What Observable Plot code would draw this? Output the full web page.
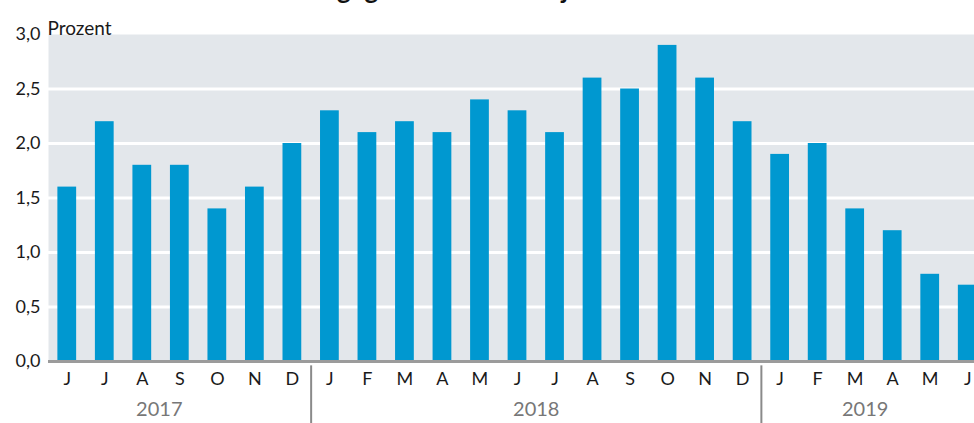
<!DOCTYPE html>
<html>
<head>
<meta charset="utf-8">
<script src="https://cdn.jsdelivr.net/npm/d3@7"></script>
<script src="https://cdn.jsdelivr.net/npm/@observablehq/plot@0.6"></script>
<style>
  html, body { margin: 0; padding: 0; background: #fff; overflow: hidden; width: 974px; height: 423px; }
  #wrap { position: relative; width: 974px; height: 423px; overflow: hidden; }
  .title { position: absolute; top: -24px; font: bold 26px Lato, "Noto Sans", sans-serif; color: #111; white-space: nowrap; line-height: 26px; }
  #chart { position: absolute; left: 0; top: 0; width: 986px; }
  #chart svg { max-width: none !important; width: 986px !important; height: 423px !important; }
</style>
</head>
<body>
<div id="wrap">
  <div id="chart"></div>
  <div class="title" style="right: 641px;">Inflationsrate</div>
  <div class="title" style="left: 337px;">gegenüber dem Vorjahresmonat</div>
</div>
<script>
const monthKeys = ["2017-06","2017-07","2017-08","2017-09","2017-10","2017-11","2017-12",
  "2018-01","2018-02","2018-03","2018-04","2018-05","2018-06","2018-07","2018-08","2018-09","2018-10","2018-11","2018-12",
  "2019-01","2019-02","2019-03","2019-04","2019-05","2019-06"];
const monthLabels = ["J","J","A","S","O","N","D","J","F","M","A","M","J","J","A","S","O","N","D","J","F","M","A","M","J"];
const values = [1.6,2.2,1.8,1.8,1.4,1.6,2.0,2.3,2.1,2.2,2.1,2.4,2.3,2.1,2.6,2.5,2.9,2.6,2.2,1.9,2.0,1.4,1.2,0.8,0.7];
const yTicks = [0,0.5,1,1.5,2,2.5,3];
const gridTicks = [0.5,1,1.5,2,2.5];
const yearLabels = ["2017","2018","2019"];
const yearAnchors = ["2017-08","2018-06","2019-03"];
const yearBreaks = ["2017-12","2018-12"];
const unitLabel = "Prozent";

const data = monthKeys.map((k, i) => ({key: k, value: values[i]}));

const W = 986, ML = 48, MR = 0;
const halfStep = (W - ML - MR) / monthKeys.length / 2;
const yearDx = [17, halfStep, 10];

const font = "Lato, 'Noto Sans', sans-serif";

const marks = [
  Plot.frame({fill: "#e3e7eb", stroke: null}),
  Plot.gridY(gridTicks, {stroke: "#fff", strokeWidth: 3, strokeOpacity: 1}),
  Plot.barY(data, {x: "key", y: "value", fill: "#0098d0"}),
  Plot.ruleY([0], {stroke: "#9b9b9b", strokeWidth: 3}),
  Plot.axisY({ticks: yTicks, tickSize: 0, tickPadding: 8, fontSize: 18, tickFormat: d => d.toFixed(1).replace(".", ","), label: null, fill: "#1a1a1a"}),
  Plot.axisX({tickSize: 0, tickPadding: 11, fontSize: 18, tickFormat: (d) => monthLabels[monthKeys.indexOf(d)], label: null, fill: "#1a1a1a"}),
  Plot.ruleX(yearBreaks, {x: d => d, y1: -0.04, y2: -0.6, dx: halfStep, stroke: "#8a8a8a", strokeWidth: 2}),
  Plot.text([unitLabel], {frameAnchor: "top-left", text: d => d, dy: -13, dx: -1, textAnchor: "start", fontSize: 19, fill: "#1a1a1a"})
];
yearLabels.forEach((yl, i) => {
  marks.push(Plot.text([yl], {x: () => yearAnchors[i], frameAnchor: "bottom", text: d => d, dy: 54, dx: yearDx[i], fontSize: 20, fill: "#777"}));
});

const chart = Plot.plot({
  width: W,
  height: 423,
  marginTop: 34,
  marginBottom: 62,
  marginLeft: ML,
  marginRight: MR,
  style: {fontFamily: font, background: "transparent", overflow: "visible", maxWidth: "none"},
  x: {type: "band", domain: monthKeys, paddingInner: 0.5, paddingOuter: 0.25, round: false, axis: null},
  y: {domain: [0, 3], axis: null},
  marks
});
document.getElementById("chart").appendChild(chart);
</script>
</body>
</html>
